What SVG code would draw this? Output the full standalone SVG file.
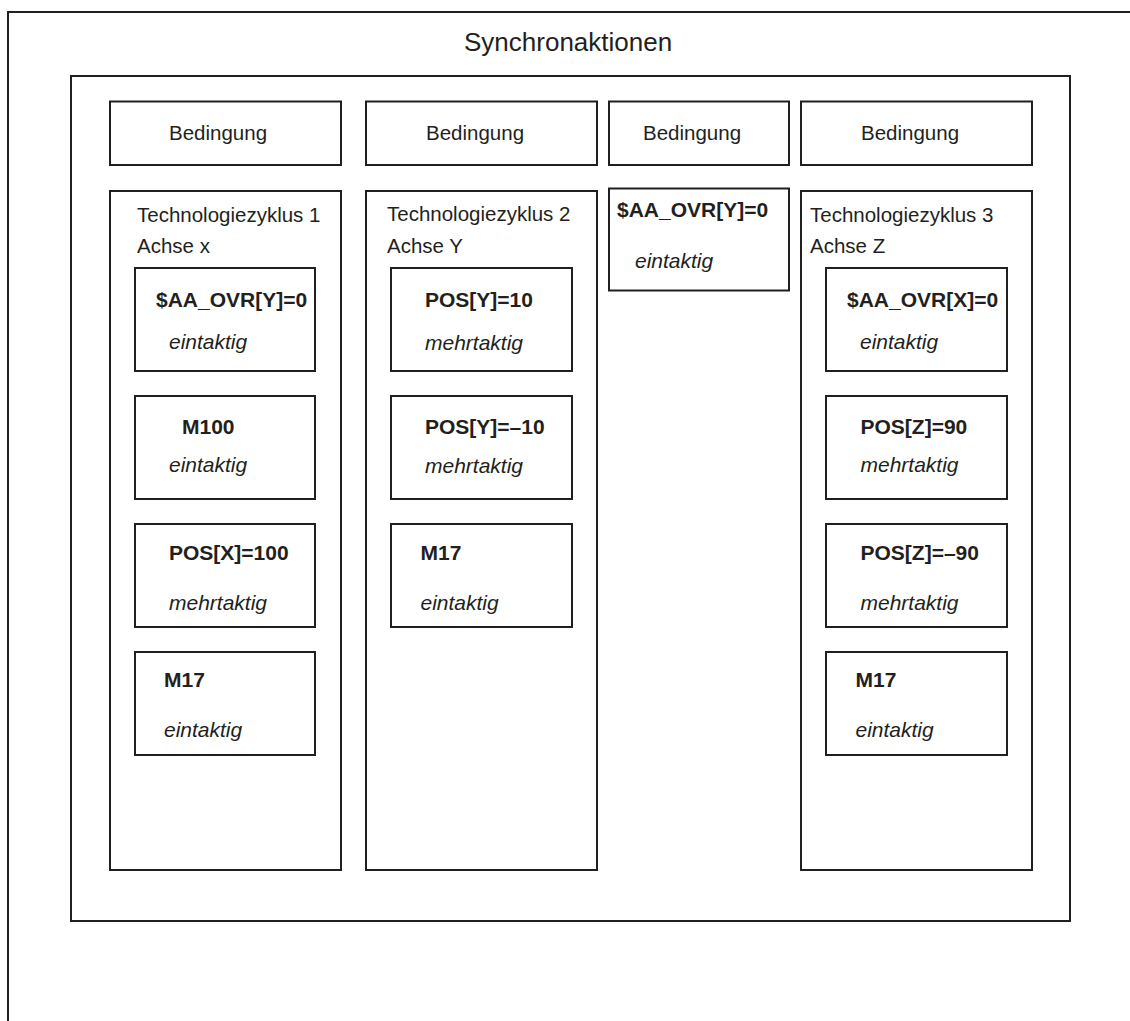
<svg xmlns="http://www.w3.org/2000/svg" width="1130" height="1021" viewBox="0 0 1130 1021">
  <style>
    .frame { fill: none; stroke: #231f20; stroke-width: 2; }
    .box { fill: #ffffff; stroke: #231f20; stroke-width: 2; }
    text { font-family: "Liberation Sans", Arial, sans-serif; fill: #231f20; }
    .title { font-size: 26px; }
    .lbl { font-size: 20.5px; }
    .cmd { font-size: 21px; font-weight: bold; }
    .mode { font-size: 21px; font-style: italic; }
  </style>
  <rect width="1130" height="1021" fill="#ffffff"/>

  <!-- outer border (open to the right and bottom) -->
  <g id="outer">
    <path class="frame" d="M8 1021 V12 H1130"/>
    <text class="title" x="464" y="51">Synchronaktionen</text>
  </g>

  <!-- synchronous actions frame -->
  <g id="sync-frame">
    <rect class="frame" x="71" y="76" width="999" height="845"/>
  </g>

  <!-- condition boxes -->
  <g id="cond-1"><rect class="box" x="110" y="101.5" width="231" height="63.5"/><text class="lbl" x="169" y="140">Bedingung</text></g>
  <g id="cond-2"><rect class="box" x="366" y="101.5" width="231" height="63.5"/><text class="lbl" x="426" y="140">Bedingung</text></g>
  <g id="cond-3"><rect class="box" x="609" y="101.5" width="180" height="63.5"/><text class="lbl" x="643" y="140">Bedingung</text></g>
  <g id="cond-4"><rect class="box" x="801" y="101.5" width="231" height="63.5"/><text class="lbl" x="861" y="140">Bedingung</text></g>

  <!-- technology cycle 1 -->
  <g id="cycle-1">
    <rect class="box" x="110" y="191" width="231" height="679"/>
    <text class="lbl" x="137" y="221.5">Technologiezyklus 1</text>
    <text class="lbl" x="137" y="253">Achse x</text>
  </g>
  <g id="c1-ovr"><rect class="box" x="135" y="268" width="180" height="103"/><text class="cmd" x="156" y="306.5">$AA_OVR[Y]=0</text><text class="mode" x="169" y="349">eintaktig</text></g>
  <g id="c1-m100"><rect class="box" x="135" y="396" width="180" height="103"/><text class="cmd" x="182" y="434">M100</text><text class="mode" x="169" y="471.5">eintaktig</text></g>
  <g id="c1-pos"><rect class="box" x="135" y="524" width="180" height="103"/><text class="cmd" x="169" y="560">POS[X]=100</text><text class="mode" x="169" y="610">mehrtaktig</text></g>
  <g id="c1-m17"><rect class="box" x="135" y="652" width="180" height="103"/><text class="cmd" x="164" y="687">M17</text><text class="mode" x="164" y="737">eintaktig</text></g>

  <!-- technology cycle 2 -->
  <g id="cycle-2">
    <rect class="box" x="366" y="191" width="231" height="679"/>
    <text class="lbl" x="387" y="221">Technologiezyklus 2</text>
    <text class="lbl" x="387" y="253">Achse Y</text>
  </g>
  <g id="c2-pos1"><rect class="box" x="391" y="268" width="181" height="103"/><text class="cmd" x="425" y="306.5">POS[Y]=10</text><text class="mode" x="425" y="350">mehrtaktig</text></g>
  <g id="c2-pos2"><rect class="box" x="391" y="396" width="181" height="103"/><text class="cmd" x="425" y="434">POS[Y]=–10</text><text class="mode" x="425" y="472.5">mehrtaktig</text></g>
  <g id="c2-m17"><rect class="box" x="391" y="524" width="181" height="103"/><text class="cmd" x="420.5" y="560">M17</text><text class="mode" x="420.5" y="610">eintaktig</text></g>

  <!-- single action -->
  <g id="action-3">
    <rect class="box" x="609" y="188.5" width="180" height="102"/>
    <text class="cmd" x="617" y="216.5">$AA_OVR[Y]=0</text>
    <text class="mode" x="635" y="268">eintaktig</text>
  </g>

  <!-- technology cycle 3 -->
  <g id="cycle-3">
    <rect class="box" x="801" y="191" width="231" height="679"/>
    <text class="lbl" x="810" y="221.5">Technologiezyklus 3</text>
    <text class="lbl" x="810" y="253">Achse Z</text>
  </g>
  <g id="c3-ovr"><rect class="box" x="826" y="268" width="181" height="103"/><text class="cmd" x="847" y="306.5">$AA_OVR[X]=0</text><text class="mode" x="860" y="349">eintaktig</text></g>
  <g id="c3-pos1"><rect class="box" x="826" y="396" width="181" height="103"/><text class="cmd" x="860.5" y="434">POS[Z]=90</text><text class="mode" x="860.5" y="471.5">mehrtaktig</text></g>
  <g id="c3-pos2"><rect class="box" x="826" y="524" width="181" height="103"/><text class="cmd" x="860.5" y="560">POS[Z]=–90</text><text class="mode" x="860.5" y="610">mehrtaktig</text></g>
  <g id="c3-m17"><rect class="box" x="826" y="652" width="181" height="103"/><text class="cmd" x="855.5" y="687">M17</text><text class="mode" x="855.5" y="737">eintaktig</text></g>

  <!-- no connectors in this figure -->
  <g id="connectors"/>
</svg>
